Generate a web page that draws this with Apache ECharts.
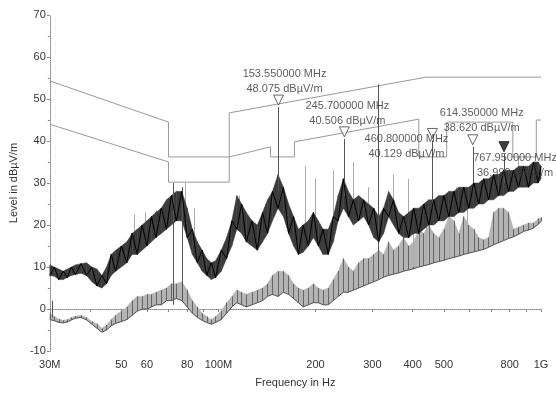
<!DOCTYPE html>
<html>
<head>
<meta charset="utf-8">
<script src="https://cdn.jsdelivr.net/npm/echarts@6/dist/echarts.min.js"></script>
<style>
  html, body { margin: 0; background: #fff; }
  #chart { width: 556px; height: 394px; }
</style>
</head>
<body>
<div id="chart"></div>
<script>
'use strict';

// frequency grid of the scan (MHz)
const freqs = [30, 31, 32, 33, 34, 35, 36, 37.5, 39, 40.5, 42, 43.5, 45, 46.5, 48, 50, 52, 54, 56, 58,
  60, 62, 64, 66.5, 69, 71.5, 74, 77, 80, 83, 86, 89, 92, 95, 98, 102, 106, 110, 114, 118,
  122, 127, 132, 137, 142, 147, 153, 159, 165, 171, 177, 183, 190, 197, 204, 211, 219, 227, 235, 244,
  253, 262, 272, 282, 292, 303, 314, 325, 337, 349, 362, 375, 389, 403, 418, 433, 449, 465, 482, 500,
  518, 537, 556, 576, 597, 619, 641, 664, 688, 713, 739, 766, 794, 822, 852, 883, 915, 948, 980, 1000]

// peak trace, lower / upper edge of the noise band (dBuV/m)
const peakLo = [8, 7.8, 7, 7, 7.5, 8, 8.2, 8.5, 8, 6.5, 5.5, 5, 6, 8, 9, 10, 11, 13, 13, 14,
  15, 16, 17, 18, 19, 20, 21, 21, 17, 13, 11, 9, 8, 7, 7.5, 9, 12, 15, 19, 18,
  16, 15, 14, 16, 18, 21, 24, 22, 18, 15, 13, 13.5, 15, 17, 15, 13, 13, 16, 21, 24,
  22, 20, 21, 22, 20, 17, 16, 18, 22, 20, 18, 17, 17, 18, 18, 19, 20, 20, 21, 21,
  22, 22, 23, 23, 24, 24, 25, 25, 26, 26, 27, 27, 28, 28, 29, 29, 29, 30, 30, 31]
const peakHi = [10.5, 10, 9.5, 9, 9.5, 10, 10.5, 10.8, 11, 10, 9.5, 8, 10, 13, 14, 15, 16, 18, 19, 20,
  21, 22, 23, 24, 26, 27, 28, 28, 24, 19, 16, 14, 12, 11, 11.5, 14, 17, 21, 27, 25,
  23, 21, 20, 23, 26, 28, 32, 29, 25, 22, 19, 20, 21, 23, 21, 19, 19, 22, 27, 31,
  28, 26, 27, 26, 25, 24, 22, 24, 28, 26, 23, 22, 23, 24, 24, 25, 26, 26, 27, 27,
  28, 28, 29, 29, 29, 30, 30, 31, 31, 32, 32, 33, 33, 33, 34, 34, 34, 35, 35, 34]

// average trace, lower / upper edge
const avgLo = [-2.5, -2.8, -3.2, -3.3, -3.1, -2.6, -2.2, -2, -2.6, -3.6, -4.6, -5.5, -5, -4, -3.4, -3, -2.5, -1.5, -0.5, 0,
  0, 0.5, 1, 1, 2, 2, 2.5, 2, 0.5, -1, -2, -2.7, -3.2, -3.6, -3.2, -2.5, -1, 0.5, 1.5, 1,
  0.5, 1, 1.5, 2, 3, 3.5, 3, 4, 3.5, 2.5, 1.5, 0.5, 1, 1.5, 1.5, 1, 1, 2, 3, 4,
  4, 4.5, 5, 5.5, 6, 6.5, 7, 7.6, 8, 8.3, 8.6, 9, 9.3, 9.6, 10, 10.3, 10.6, 11, 11.3, 11.6,
  12, 12.3, 12.6, 13, 13.3, 13.6, 13.9, 14.2, 14.7, 15.3, 15.8, 16.3, 16.8, 17.2, 17.8, 18.5, 18.8, 19.3, 20.2, 20.8]
const avgHi = [-1, -1.8, -2.4, -2.7, -2.5, -2, -1.7, -1.5, -2, -3, -3.5, -4.6, -3.8, -2.5, -1.5, -0.5, 0.5, 2, 3, 3,
  3.5, 3.5, 4, 4.5, 5, 6, 6, 6.5, 4.5, 2, 0.5, -1, -1.8, -2.5, -1.8, -0.5, 1.5, 3, 4.5, 4,
  3.5, 4, 4.5, 5, 6, 8, 9, 9, 8, 6, 5, 4.5, 5, 6, 5, 4.5, 5, 7, 9, 12,
  10, 9, 11, 12, 12, 13, 14, 13, 16, 14, 15, 17, 15, 16, 19, 18, 20, 18, 17, 19,
  22, 21, 18, 22, 20, 19, 17, 16.5, 17, 23, 24, 24, 23, 19, 19.5, 20, 20.5, 20.5, 21.5, 21.8]

// limit lines (vertical steps repeat the frequency)
const limitAFreq = [30, 70, 70, 108, 145, 145, 172, 172, 418, 418, 510, 510, 818, 818, 967, 967, 1000]
const limitALevel = [54.3, 44.5, 36.2, 36.2, 38.6, 36.2, 36.2, 39.8, 45.2, 36.2, 36.2, 44.5, 44.5, 36.2, 36.2, 45, 45]
const limitBFreq = [30, 70, 70, 108, 108, 440, 1000]
const limitBLevel = [44, 35, 30.2, 30.2, 46.7, 55.2, 55.2]

// single spectral lines
const spikeFreq = [30.5, 72.5, 77, 153.55, 245.7, 313, 460.8, 614.35, 767.95]
const spikeLo = [-2, 1, 2, 28, 27, 7, 24, 28, 30]
const spikeHi = [2, 30, 29, 48.075, 40.506, 53.5, 40.129, 38.62, 36.99]
const faintFreq = [55, 59.5, 64, 69, 79, 84, 116, 140, 186, 200, 227, 262, 292, 349, 389, 403, 440, 520, 546, 590, 850]
const faintLo = [15, 15, 17, 19, 20, 14, 20, 17, 15, 18, 17, 21, 21, 21, 19, 10, 11, 12, 24, 13, 30]
const faintHi = [22.5, 23, 23.5, 25.5, 30, 24, 27, 25, 34, 31, 33, 35, 29, 32, 31, 24, 25, 26, 29, 25, 36]

// markers
const markerFreq = [153.55, 245.7, 460.8, 614.35, 767.95]
const markerLevel = [48.075, 40.506, 40.129, 38.62, 36.99]

// axis ticks
const xTickValues = [30, 50, 60, 80, 100, 200, 300, 400, 500, 800, 1000]
const xTickLabels = ['30M', '50', '60', '80', '100M', '200', '300', '400', '500', '800', '1G']
const xMinorValues = [30, 40, 50, 60, 70, 80, 90, 100, 200, 300, 400, 500, 600, 700, 800, 900, 1000]

const FONT = 'Liberation Sans, Arial, sans-serif'

// sawtooth bouncing between the two edges of a band
const zig = (lo, hi) => freqs.map((f, i) => [f, i % 2 === 0 ? lo[i] : hi[i]])
const pairs = (xs, ys) => xs.map((x, i) => [x, ys[i]])
const segs = (xs, lo, hi) => xs.map((x, i) => ({ coords: [[x, lo[i]], [x, hi[i]]] }))
// one row per strip between neighbouring frequencies
const strips = (lo, hi) => freqs.slice(0, -1).map((f, i) => [f, lo[i], hi[i], freqs[i + 1], lo[i + 1], hi[i + 1]])

const bandSeries = (name, lo, hi, color, z) => ({
    name: name,
    type: 'custom',
    data: strips(lo, hi),
    encode: { x: [0, 3], y: [1, 2, 4, 5] },
    z: z,
    silent: true,
    renderItem: (params, api) => {
        const a = api.coord([api.value(0), api.value(1)])
        const b = api.coord([api.value(3), api.value(4)])
        const c = api.coord([api.value(3), api.value(5)])
        const d = api.coord([api.value(0), api.value(2)])
        return {
            type: 'polygon',
            shape: { points: [a, b, c, d] },
            style: { fill: color, stroke: color, lineWidth: 0.5 }
        }
    }
})

// label placement for each marker, relative to its triangle
const labelOffsets = [[6, 7], [3, 7], [-26, 39], [9, 6], [11, 44]]

const markerData = markerFreq.map((f, i) => ({
    value: [f, markerLevel[i]],
    itemStyle: i === 4 ? { color: '#111', borderColor: '#111' } : {},
    label: {
        offset: labelOffsets[i],
        formatter: f.toFixed(6) + ' MHz\n' + markerLevel[i].toFixed(3) + ' dBµV/m'
    }
}))

const chart = echarts.init(document.getElementById('chart'))

const option = {
    animation: false,
    backgroundColor: '#fff',
    grid: { left: 44, right: 15, top: 15, bottom: 43 },
    xAxis: {
        type: 'log',
        logBase: 10,
        min: 30,
        max: 1000,
        name: 'Frequency in Hz',
        nameLocation: 'middle',
        nameGap: 26,
        nameTextStyle: { fontFamily: FONT, fontSize: 11, color: '#333' },
        axisLine: { lineStyle: { color: '#888', type: 'dotted' } },
        axisTick: { show: true, length: 3, customValues: xMinorValues, lineStyle: { color: '#888' } },
        axisLabel: {
            customValues: xTickValues,
            fontFamily: FONT, fontSize: 11, color: '#333', margin: 8,
            formatter: v => {
                const k = xTickValues.findIndex(t => Math.abs(t - v) < 0.5)
                return k >= 0 ? xTickLabels[k] : ''
            }
        },
        splitLine: { show: false }
    },
    yAxis: {
        type: 'value',
        min: -10,
        max: 70,
        interval: 10,
        name: 'Level in dBµV/m',
        nameLocation: 'middle',
        nameGap: 29,
        nameTextStyle: { fontFamily: FONT, fontSize: 11, color: '#333' },
        axisLine: { show: true, lineStyle: { color: '#888', type: 'dotted' } },
        axisTick: { show: true, length: 3, lineStyle: { color: '#888' } },
        minorTick: { show: true, splitNumber: 2, length: 2, lineStyle: { color: '#888' } },
        axisLabel: { fontFamily: FONT, fontSize: 11, color: '#333', margin: 4 },
        splitLine: { show: false }
    },
    series: [
        {
            name: 'limitA', type: 'line', data: pairs(limitAFreq, limitALevel),
            symbol: 'none', z: 1, lineStyle: { color: '#999', width: 1 }
        },
        {
            name: 'limitB', type: 'line', data: pairs(limitBFreq, limitBLevel),
            symbol: 'none', z: 1, lineStyle: { color: '#999', width: 1 }
        },
        bandSeries('avgBand', avgLo, avgHi, '#b4b4b4', 2),
        {
            name: 'avgStrokes', type: 'lines', coordinateSystem: 'cartesian2d',
            data: segs(freqs, avgLo, avgHi), z: 3,
            lineStyle: { color: '#666', width: 1, opacity: 1 }
        },
        {
            name: 'average', type: 'line', data: pairs(freqs, avgLo),
            symbol: 'none', z: 3, lineStyle: { color: '#555', width: 1 }
        },
        {
            name: 'faint', type: 'lines', coordinateSystem: 'cartesian2d',
            data: segs(faintFreq, faintLo, faintHi), z: 3,
            lineStyle: { color: '#aaa', width: 1, opacity: 1 }
        },
        bandSeries('peakBand', peakLo, peakHi, '#3a3a3a', 4),
        {
            name: 'peak', type: 'line', data: zig(peakLo, peakHi),
            symbol: 'none', z: 5, lineStyle: { color: '#000', width: 1 }
        },
        {
            name: 'spikes', type: 'lines', coordinateSystem: 'cartesian2d',
            data: segs(spikeFreq, spikeLo, spikeHi), z: 5,
            lineStyle: { color: '#555', width: 1, opacity: 1 }
        },
        {
            name: 'markers', type: 'scatter', data: markerData, z: 6,
            symbol: 'triangle', symbolRotate: 180, symbolSize: [10, 10], symbolOffset: [0, -7],
            itemStyle: { color: '#fff', borderColor: '#444', borderWidth: 1 },
            label: {
                show: true, position: 'top', fontFamily: FONT, fontSize: 11,
                lineHeight: 15, color: '#333', align: 'center'
            }
        }
    ]
}

chart.setOption(option)
</script>
</body>
</html>
